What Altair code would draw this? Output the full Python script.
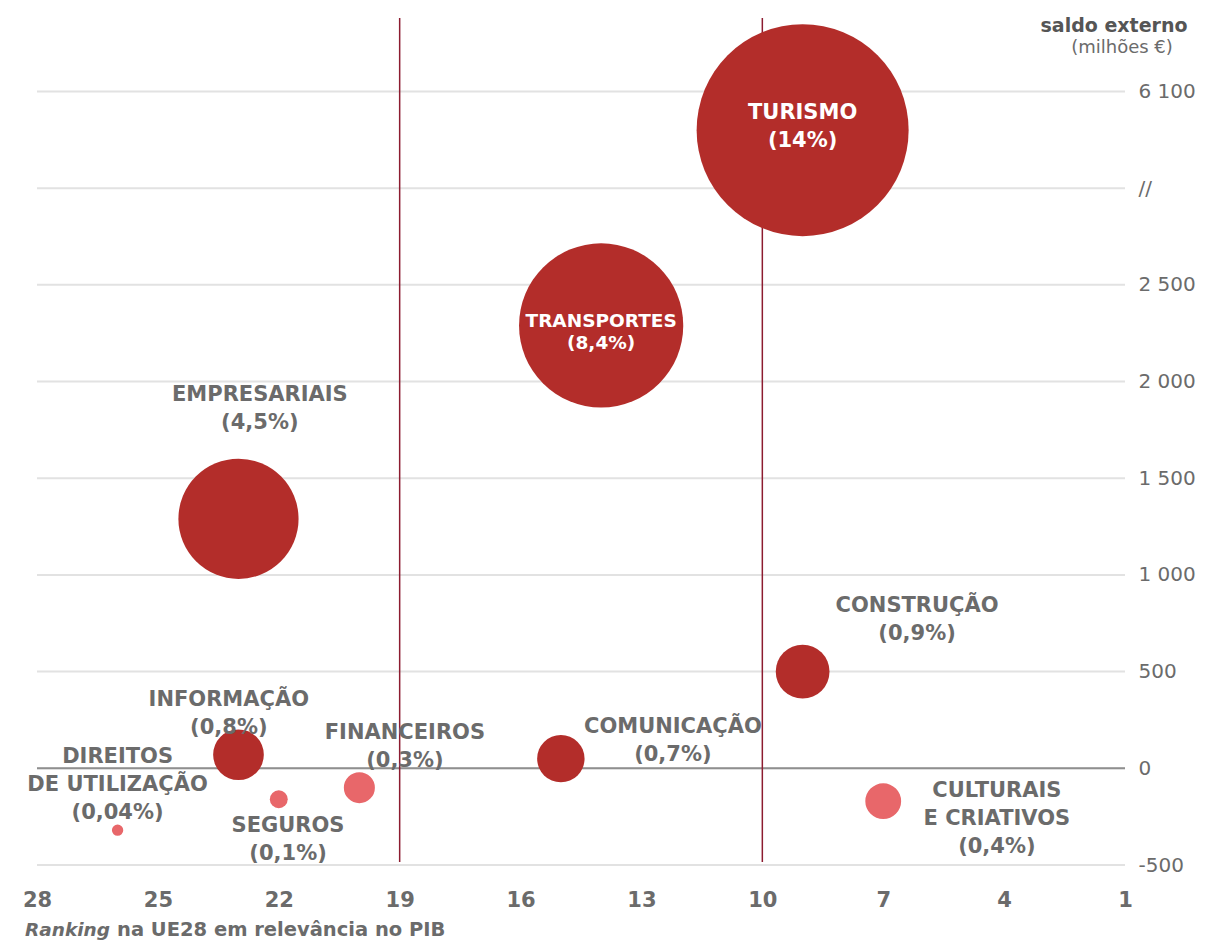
import altair as alt
import pandas as pd

# ---- data ----
sectors = ["TURISMO", "TRANSPORTES", "EMPRESARIAIS", "CONSTRUÇÃO", "INFORMAÇÃO",
           "COMUNICAÇÃO", "FINANCEIROS", "SEGUROS", "DIREITOS DE UTILIZAÇÃO",
           "CULTURAIS E CRIATIVOS"]
ranking = [9, 14, 23, 9, 23, 15, 20, 22, 26, 7]
# saldo externo (milhões €) on the displayed (broken) axis; TURISMO sits above the break
saldo = [3300, 2290, 1290, 500, 70, 50, -100, -160, -320, -170]
pib_pct = [14, 8.4, 4.5, 0.9, 0.8, 0.7, 0.3, 0.1, 0.04, 0.4]
group = ["forte", "forte", "forte", "forte", "forte", "forte",
         "fraco", "fraco", "fraco", "fraco"]
labels = ["TURISMO\n(14%)", "TRANSPORTES\n(8,4%)", "EMPRESARIAIS\n(4,5%)",
          "CONSTRUÇÃO\n(0,9%)", "INFORMAÇÃO\n(0,8%)", "COMUNICAÇÃO\n(0,7%)",
          "FINANCEIROS\n(0,3%)", "SEGUROS\n(0,1%)",
          "DIREITOS\nDE UTILIZAÇÃO\n(0,04%)", "CULTURAIS\nE CRIATIVOS\n(0,4%)"]
# label anchor (first line) in data units
label_rank = [9.0, 14.0, 22.47, 6.16, 23.24, 12.22, 18.87, 21.77, 26.0, 4.18]
label_saldo = [3389, 2313, 1930, 839, 353, 214, 183, -298, 58, -117]
inside = [True, True, False, False, False, False, False, False, False, False]

y_ticks = [-500, 0, 500, 1000, 1500, 2000, 2500, 3000, 3500]
x_ticks = [28, 25, 22, 19, 16, 13, 10, 7, 4, 1]
vlines = [19, 10]
zero = [0]

df = pd.DataFrame({"sector": sectors, "rank": ranking, "saldo": saldo,
                   "pct": pib_pct, "group": group, "label": labels,
                   "lrank": label_rank, "lsaldo": label_saldo, "inside": inside})

W, H = 1088, 847
GRAY = "#6b6b6b"
FONT = "DejaVu Sans"

xscale = alt.Scale(domain=[1, 28], reverse=True, nice=False, zero=False)
yscale = alt.Scale(domain=[-500, 3880], nice=False, zero=False)

base = alt.Chart(df)

grid = alt.Chart(pd.DataFrame({"v": y_ticks})).mark_rule(
    color="#e2e2e2", strokeWidth=2
).encode(
    y=alt.Y("v:Q", scale=yscale, axis=alt.Axis(
        orient="right", values=y_ticks, grid=False, ticks=False, domain=False,
        labelPadding=13, labelFontSize=20, labelColor=GRAY, labelFont=FONT,
        labelAlign="left", labelFlush=False,
        labelExpr="datum.value == 3500 ? '6 100' : datum.value == 3000 ? '//' : "
                  "replace(replace(format(datum.value, ','), ',', ' '), '\u2212', '-')",
        title=None)),
)

zero_line = alt.Chart(pd.DataFrame({"v": zero})).mark_rule(
    color="#8f8f8f", strokeWidth=2
).encode(y=alt.Y("v:Q", scale=yscale))

vrules = alt.Chart(pd.DataFrame({"r": vlines})).mark_rule(
    color="#8c1c30", strokeWidth=1.5
).encode(
    x=alt.X("r:Q", scale=xscale, axis=alt.Axis(
        values=x_ticks, grid=False, ticks=False, domain=False, labelPadding=24,
        labelFontSize=21, labelFontWeight="bold", labelColor=GRAY, labelFont=FONT,
        labelFlush=False, title=None)),
    y=alt.value(0), y2=alt.value(H - 3),
)

bubbles = base.mark_circle(opacity=1).encode(
    x=alt.X("rank:Q", scale=xscale),
    y=alt.Y("saldo:Q", scale=yscale),
    size=alt.Size("pct:Q", scale=alt.Scale(domain=[0, 14], range=[0, 44944]),
                  legend=None),
    color=alt.Color("group:N", scale=alt.Scale(domain=["forte", "fraco"],
                                               range=["#b32d2a", "#e8676a"]),
                    legend=None),
)

txt_out = base.transform_filter("!datum.inside").mark_text(
    font=FONT, fontWeight="bold", fontSize=21, color=GRAY, lineBreak="\n",
    lineHeight=28, align="center", baseline="middle"
).encode(x=alt.X("lrank:Q", scale=xscale), y=alt.Y("lsaldo:Q", scale=yscale),
         text="label:N")

txt_in1 = base.transform_filter("datum.sector == 'TURISMO'").mark_text(
    font=FONT, fontWeight="bold", fontSize=21, color="white", lineBreak="\n",
    lineHeight=28, align="center", baseline="middle"
).encode(x=alt.X("lrank:Q", scale=xscale), y=alt.Y("lsaldo:Q", scale=yscale),
         text="label:N")

txt_in2 = base.transform_filter("datum.sector == 'TRANSPORTES'").mark_text(
    font=FONT, fontWeight="bold", fontSize=18.5, color="white", lineBreak="\n",
    lineHeight=22, align="center", baseline="middle"
).encode(x=alt.X("lrank:Q", scale=xscale), y=alt.Y("lsaldo:Q", scale=yscale),
         text="label:N")

title1 = alt.Chart(pd.DataFrame({"t": ["saldo externo"]})).mark_text(
    font=FONT, fontWeight="bold", fontSize=19, color="#555555", align="center",
    baseline="middle").encode(x=alt.value(1077), y=alt.value(8), text="t:N")
title2 = alt.Chart(pd.DataFrame({"t": ["(milhões €)"]})).mark_text(
    font=FONT, fontSize=18, color=GRAY, align="center",
    baseline="middle").encode(x=alt.value(1085), y=alt.value(30), text="t:N")

xt1 = alt.Chart(pd.DataFrame({"t": ["Ranking"]})).mark_text(
    font=FONT, fontWeight="bold", fontStyle="italic", fontSize=18.5, color=GRAY,
    align="right", baseline="middle").encode(x=alt.value(73), y=alt.value(912), text="t:N")
xt2 = alt.Chart(pd.DataFrame({"t": ["na UE28 em relevância no PIB"]})).mark_text(
    font=FONT, fontWeight="bold", fontSize=19.5, color=GRAY,
    align="left", baseline="middle").encode(x=alt.value(80), y=alt.value(912), text="t:N")

chart = alt.layer(
    grid, zero_line, vrules, bubbles, txt_out, txt_in1, txt_in2,
    title1, title2, xt1, xt2
).properties(
    width=W, height=H,
    autosize=alt.AutoSizeParams(type="none"),
    padding={"left": 29, "top": 10, "right": 73, "bottom": 75},
    background="white",
).configure_view(stroke=None)

chart.save("out.html", embed_options={"renderer": "svg", "actions": False})
